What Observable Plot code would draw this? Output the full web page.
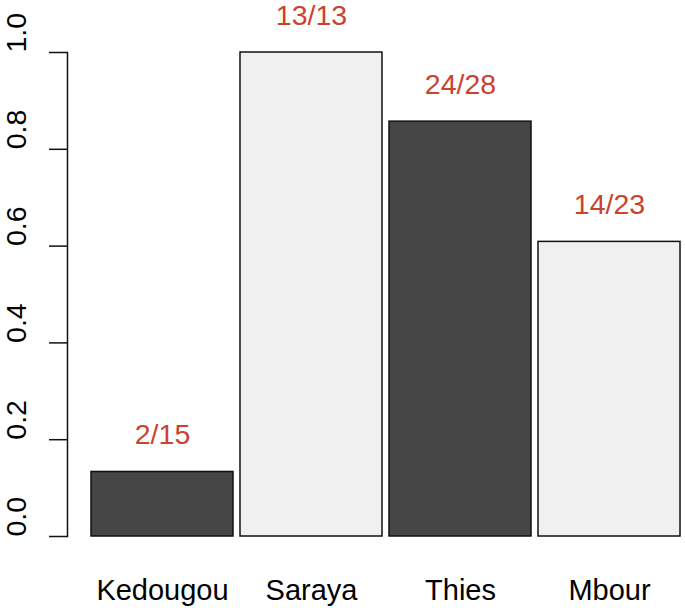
<!DOCTYPE html>
<html>
<head>
<meta charset="utf-8">
<script src="https://cdn.jsdelivr.net/npm/d3@7"></script>
<script src="https://cdn.jsdelivr.net/npm/@observablehq/plot@0.6"></script>
<style>
  html, body { margin: 0; padding: 0; background: #fff; }
  #chart svg { display: block; }
</style>
</head>
<body>
<div id="chart"></div>
<script>
const sites = ["Kedougou", "Saraya", "Thies", "Mbour"];
const positives = [2, 13, 24, 14];
const totals = [15, 13, 28, 23];
const fills = ["#464646", "#f0f0f0", "#464646", "#f0f0f0"];
const yTicks = [0, 0.2, 0.4, 0.6, 0.8, 1.0];

const data = sites.map((s, i) => ({
  site: s,
  prop: positives[i] / totals[i],
  label: `${positives[i]}/${totals[i]}`,
  fill: fills[i]
}));

const font = "Liberation Sans, Arial, sans-serif";

const chart = Plot.plot({
  width: 685,
  height: 608,
  marginLeft: 67,
  marginRight: 3,
  marginTop: 52,
  marginBottom: 72,
  style: { fontFamily: font, fontSize: "28.5px", color: "#000", background: "#fff" },
  x: { domain: sites, range: [90, 682], paddingInner: 0.045, paddingOuter: 0, label: null },
  y: { domain: [0, 1], label: null },
  marks: [
    Plot.barY(data, {
      x: "site", y: "prop", fill: "fill",
      stroke: "#111", strokeWidth: 1.5
    }),
    Plot.text(data, {
      x: "site", y: "prop", text: "label",
      dy: -37, fill: "#c9432f", fontSize: 28.5
    }),
    Plot.frame({ anchor: "left", stroke: "#111", strokeWidth: 1.5 }),
    Plot.axisY({ ticks: yTicks, tickSize: 18, tickFormat: () => "", label: null, stroke: "#111", strokeWidth: 1.5 }),
    Plot.text(yTicks, {
      y: d => d, text: d => d.toFixed(1), frameAnchor: "left",
      dx: -51, rotate: -90, fill: "#000", fontSize: 28.5
    }),
    Plot.axisX({ tickSize: 0, tickPadding: 43, label: null, fontSize: 29, fill: "#000" })
  ]
});

document.getElementById("chart").appendChild(chart);
</script>
</body>
</html>
